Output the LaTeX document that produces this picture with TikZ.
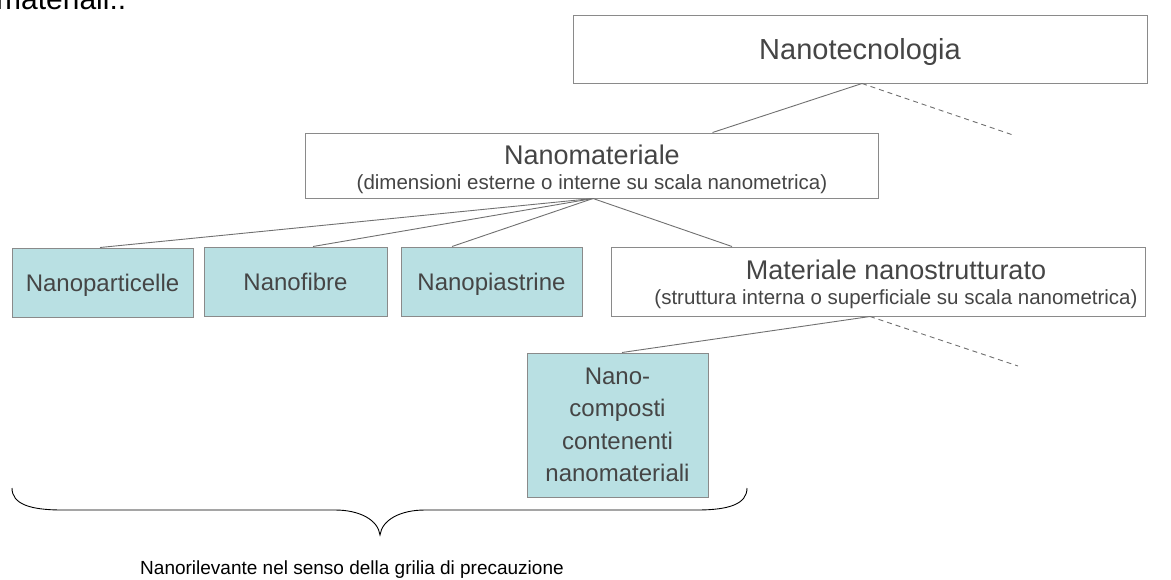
\documentclass[tikz,border=0pt]{standalone}
\usepackage{fontspec}
\setmainfont{Liberation Sans}
\definecolor{txt}{HTML}{454545}
\definecolor{bord}{HTML}{8A8A8A}
\definecolor{lin}{HTML}{707070}
\definecolor{cyanfill}{HTML}{B9E0E3}
\tikzset{
  wbox/.style={draw=bord, line width=1pt, fill=white, inner sep=0pt},
  cbox/.style={draw=bord, line width=1pt, fill=cyanfill, inner sep=0pt},
  lbl/.style={text=txt, inner sep=0pt, text height=0.72em, text depth=0.21em},
  mlbl/.style={text=txt, inner sep=0pt},
  conn/.style={draw=lin, line width=0.9pt},
  dconn/.style={draw=lin, line width=0.9pt, dash pattern=on 5pt off 4pt}
}
\begin{document}
\begin{tikzpicture}[x=1pt,y=-1pt]
\useasboundingbox (0,0) rectangle (1171,579);
% top cut text
\node[anchor=base west, inner sep=0pt, text=black, font=\fontsize{30}{30}\selectfont] (mat) at (-4,9) {materiali:.};
% boxes
\node[wbox, minimum width=574pt, minimum height=68pt] (nt) at (860,49) {};
\node[lbl, font=\fontsize{29}{32}\selectfont] (ntl) at (860,57) {Nanotecnologia};
\node[wbox, minimum width=573pt, minimum height=65pt] (nm) at (591.5,165.5) {};
\node[lbl, font=\fontsize{27}{30}\selectfont] (nml) at (592,162) {Nanomateriale};
\node[lbl, font=\fontsize{20.5}{24}\selectfont] (nms) at (592,187) {(dimensioni esterne o interne su scala nanometrica)};
\node[cbox, minimum width=181pt, minimum height=69pt] (np) at (102.5,282.5) {};
\node[lbl, font=\fontsize{24}{28}\selectfont] (npl) at (102.5,289) {Nanoparticelle};
\node[cbox, minimum width=183pt, minimum height=69pt] (nf) at (295.5,281.5) {};
\node[lbl, font=\fontsize{24}{28}\selectfont] (nfl) at (295.5,288) {Nanofibre};
\node[cbox, minimum width=181pt, minimum height=69pt] (ns) at (491.5,281.5) {};
\node[lbl, font=\fontsize{24}{28}\selectfont] (nsl) at (491.5,288) {Nanopiastrine};
\node[wbox, minimum width=534pt, minimum height=69pt] (mn) at (878,281.5) {};
\node[lbl, font=\fontsize{27}{30}\selectfont] (mnl) at (896,277) {Materiale nanostrutturato};
\node[lbl, font=\fontsize{20.5}{24}\selectfont] (mns) at (896,302) {(struttura interna o superficiale su scala nanometrica)};
\node[cbox, minimum width=181pt, minimum height=144pt] (nc) at (617.5,425) {};
\node[mlbl, font=\fontsize{24}{32.5}\selectfont, align=center] (ncl) at (617.5,425) {Nano-\\composti\\contenenti\\nanomateriali};
% free ends of dashed lines
\coordinate (d1) at (1013,135);
\coordinate (d2) at (1018,366);
% connectors
\draw[conn] ([xshift=2pt]nt.south) -- ([xshift=121pt]nm.north);
\draw[dconn] ([xshift=2pt]nt.south) -- (d1);
\draw[conn] ([xshift=1.5pt]nm.south) -- ([xshift=-2.5pt]np.north);
\draw[conn] ([xshift=1.5pt]nm.south) -- ([xshift=17.5pt]nf.north);
\draw[conn] ([xshift=1.5pt]nm.south) -- ([xshift=-39.5pt]ns.north);
\draw[conn] ([xshift=1.5pt]nm.south) -- ([xshift=-146pt]mn.north);
\draw[conn] ([xshift=-8pt]mn.south) -- ([xshift=4.5pt]nc.north);
\draw[dconn] ([xshift=-8pt]mn.south) -- (d2);
% brace
\coordinate (bl) at (12,488);
\coordinate (br) at (747,488);
\coordinate (bt) at (380,535);
\draw[black, line width=0.9pt] (bl) .. controls (12,504) and (30,510) .. (62,510) -- (335,510)
  .. controls (360,510) and (378,520) .. (bt)
  .. controls (382,520) and (400,510) .. (425,510) -- (697,510)
  .. controls (729,510) and (747,504) .. (br);
\node[lbl, text=black, font=\fontsize{19}{22}\selectfont] (brl) at (352,572) {Nanorilevante nel senso della grilia di precauzione};
\end{tikzpicture}
\end{document}
